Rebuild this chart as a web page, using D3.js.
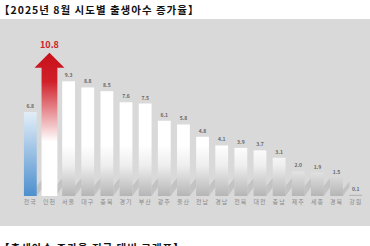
<!DOCTYPE html>
<html>
<head>
<meta charset="utf-8">
<script src="https://cdn.jsdelivr.net/npm/d3@7"></script>
<style>
  body { margin: 0; background: #fff; }
  svg { display: block; font-family: "Noto Sans CJK KR", "Noto Sans", sans-serif; }
</style>
</head>
<body>
<script>
    let regions = ["전국", "인천", "서울", "대구", "충북", "경기", "부산", "광주", "울산", "전남", "경남", "전북", "대전", "충남", "제주", "세종", "경북", "강원"];
    let rates = [6.8, 10.8, 9.3, 8.8, 8.5, 7.6, 7.5, 6.1, 5.8, 4.8, 4.1, 3.9, 3.7, 3.1, 2.0, 1.9, 1.5, 0.1];
    let title = "【2025년 8월 시도별 출생아수 증가율】";
    let subtitle = "【출생아수 증가율 전국 대비 그래프】";

    let width = 370, height = 246;
    let data = regions.map((r, i) => ({region: r, rate: rates[i]}));

    const svg = d3.select("body")
      .append("svg")
      .attr("width", width)
      .attr("height", height);

    let defs = svg.append("defs");

    // white bars fade into grey at the floor
    let gWhite = defs.append("linearGradient")
      .attr("id", "white-bar")
      .attr("gradientUnits", "userSpaceOnUse")
      .attr("x1", 0).attr("x2", 0).attr("y1", 145).attr("y2", 196);
    gWhite.append("stop").attr("offset", "0%").attr("stop-color", "#ffffff");
    gWhite.append("stop").attr("offset", "40%").attr("stop-color", "#eeeeee");
    gWhite.append("stop").attr("offset", "100%").attr("stop-color", "#b5b5b5");

    let gBlue = defs.append("linearGradient")
      .attr("id", "blue-bar")
      .attr("x1", 0).attr("x2", 0).attr("y1", 0).attr("y2", 1);
    gBlue.append("stop").attr("offset", "0%").attr("stop-color", "#e3eef8");
    gBlue.append("stop").attr("offset", "100%").attr("stop-color", "#4d8fce");

    let gRed = defs.append("linearGradient")
      .attr("id", "red-bar")
      .attr("x1", 0).attr("x2", 0).attr("y1", 0).attr("y2", 1);
    gRed.append("stop").attr("offset", "0%").attr("stop-color", "#c8101a");
    gRed.append("stop").attr("offset", "20%").attr("stop-color", "#d0202a");
    gRed.append("stop").attr("offset", "62%").attr("stop-color", "#ffffff");
    gRed.append("stop").attr("offset", "100%").attr("stop-color", "#ffffff");

    // grey panel
    svg.append("rect")
      .attr("x", 0)
      .attr("y", 19)
      .attr("width", width)
      .attr("height", 207)
      .attr("fill", "#d9d9d9");

    svg.append("text")
      .text(title)
      .attr("x", -1)
      .attr("y", 14)
      .style("font-size", "10.5px")
      .style("font-weight", "bold")
      .style("letter-spacing", "1px")
      .attr("fill", "#111");

    svg.append("text")
      .text(subtitle)
      .attr("x", -1)
      .attr("y", 252)
      .style("font-size", "10.5px")
      .style("font-weight", "bold")
      .style("letter-spacing", "1px")
      .attr("fill", "#111");

    let x = d3.scaleBand()
      .domain(regions)
      .range([22, 364])
      .paddingInner(0.33)
      .paddingOuter(0.1);

    let y = d3.scaleLinear()
      .domain([0, 12])
      .range([196, 48]);

    let bw = x.bandwidth();

    // floor shadows between bars
    svg.append("g")
      .selectAll("polygon")
      .data(data.filter(d => d.rate > 1))
      .enter()
      .append("polygon")
      .attr("points", (d) => {
        let x0 = x(d.region) + bw, y0 = y(0);
        let h = Math.min(y(0) - y(d.rate), 22);
        return [[x0, y0], [x0 + 6.5, y0 - 9], [x0 + 6.5, y0 - h + 4], [x0, y0 - h + 12]].join(" ");
      })
      .attr("fill", "#bdbdbd")
      .attr("opacity", 0.8);

    let bars = svg.append("g");

    bars.selectAll("rect")
      .data(data.filter(d => d.region != "인천"))
      .enter()
      .append("rect")
      .attr("x", (d) => x(d.region))
      .attr("y", (d) => y(d.rate))
      .attr("width", bw)
      .attr("height", (d) => y(0) - y(d.rate))
      .attr("fill", (d) => d.region == "전국" ? "url(#blue-bar)" : "url(#white-bar)");

    // 인천: arrow
    let inc = data[1];
    let cx = x(inc.region) + bw / 2;
    let tip = y(inc.rate) - 10, headBase = y(inc.rate) + 5;
    let sw = bw / 2 + 1.5, hw = 15;
    bars.append("polygon")
      .attr("points", [
        [cx, tip], [cx + hw, headBase], [cx + sw, headBase], [cx + sw, y(0)],
        [cx - sw, y(0)], [cx - sw, headBase], [cx - hw, headBase]
      ].join(" "))
      .attr("fill", "url(#red-bar)");

    svg.append("text")
      .text(d3.format(".1f")(inc.rate))
      .attr("x", cx)
      .attr("y", tip - 5)
      .attr("text-anchor", "middle")
      .style("font-size", "9px")
      .style("font-weight", "bold")
      .attr("fill", "#d0202a");

    svg.append("g")
      .selectAll("text")
      .data(data.filter(d => d.region != "인천"))
      .enter()
      .append("text")
      .text((d) => d3.format(".1f")(d.rate))
      .attr("x", (d) => x(d.region) + bw / 2)
      .attr("y", (d) => y(d.rate) - 4)
      .attr("text-anchor", "middle")
      .style("font-size", "5px")
      .style("font-weight", "bold")
      .attr("fill", "#666");

    let xAxis = d3.axisBottom(x).tickSize(0).tickPadding(4);
    let gx = svg.append("g")
      .attr("transform", "translate(0," + y(0) + ")")
      .call(xAxis);
    gx.select(".domain").remove();
    gx.selectAll("text")
      .style("font-size", "6px")
      .style("font-family", "\"Noto Sans CJK KR\", sans-serif")
      .style("letter-spacing", "1px")
      .attr("fill", "#8a8a8a");
</script>
</body>
</html>
